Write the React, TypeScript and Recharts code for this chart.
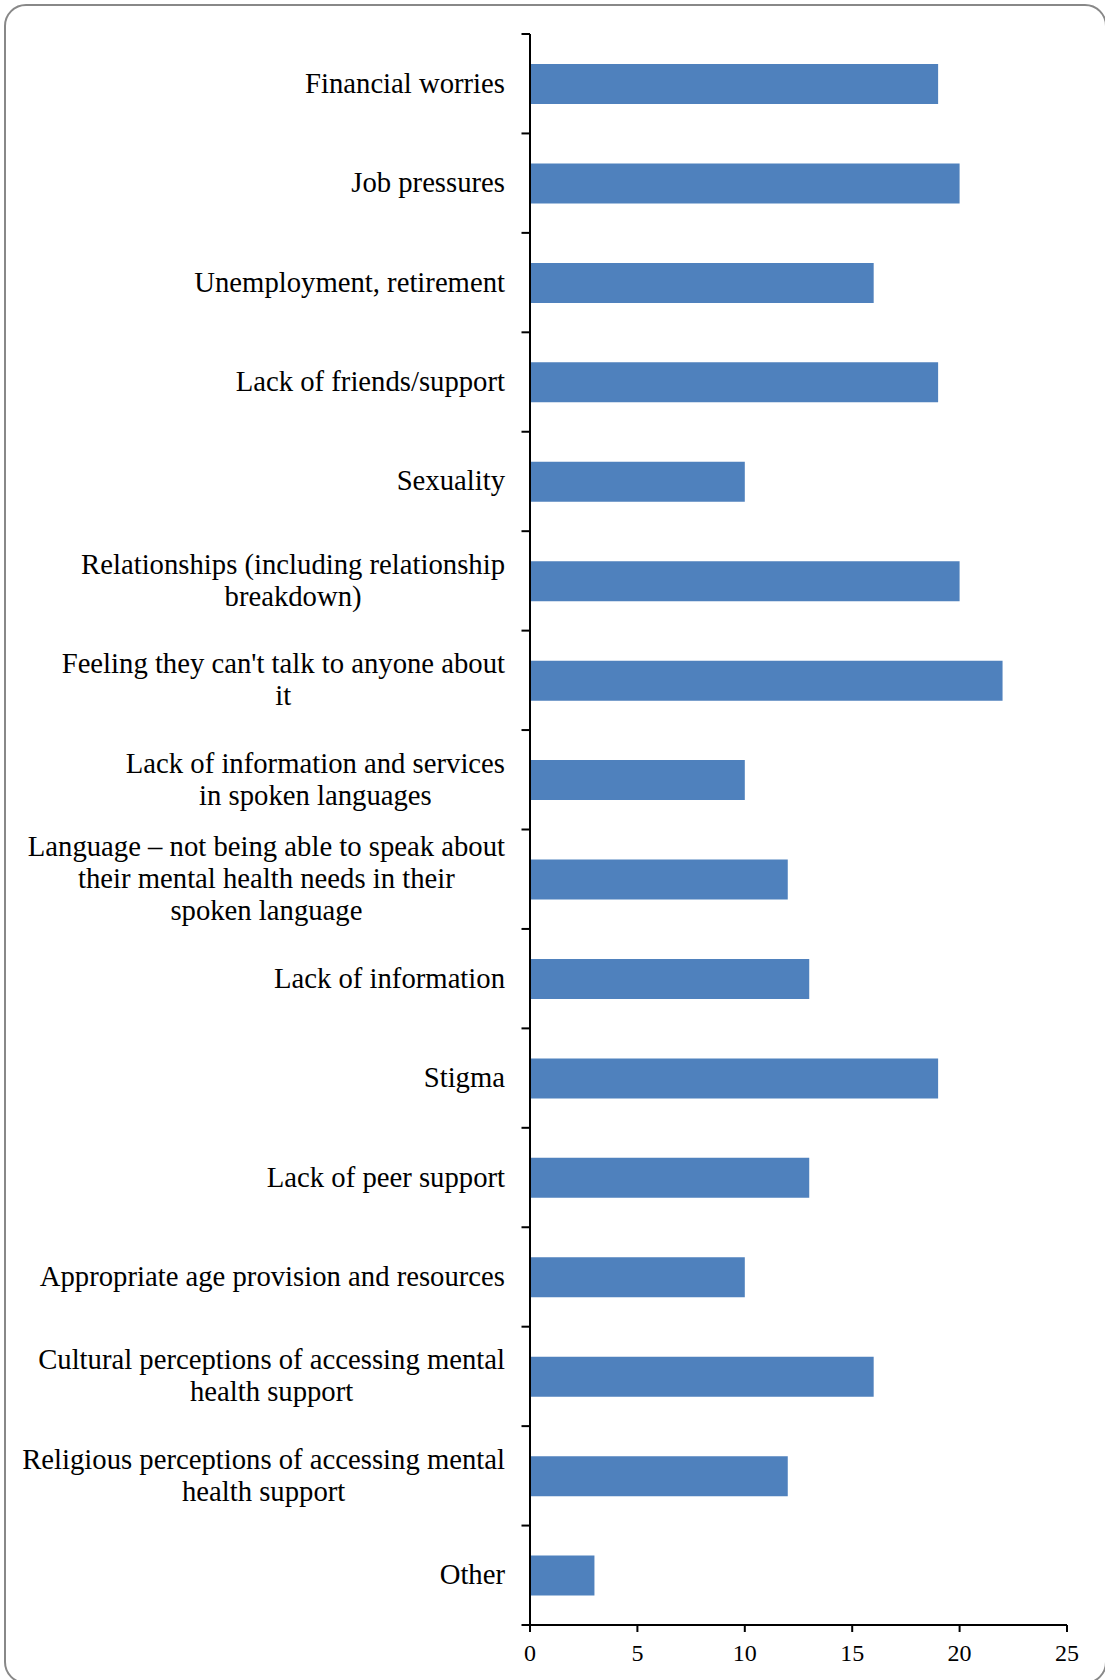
import { Bar, BarChart, XAxis, YAxis } from "recharts";

const categories = [
  "Financial worries",
  "Job pressures",
  "Unemployment, retirement",
  "Lack of friends/support",
  "Sexuality",
  "Relationships (including relationship\nbreakdown)",
  "Feeling they can't talk to anyone about\nit",
  "Lack of information and services\nin spoken languages",
  "Language – not being able to speak about\ntheir mental health needs in their\nspoken language",
  "Lack of information",
  "Stigma",
  "Lack of peer support",
  "Appropriate age provision and resources",
  "Cultural perceptions of accessing mental\nhealth support",
  "Religious perceptions of accessing mental\nhealth support",
  "Other",
];
const counts = [19, 20, 16, 19, 10, 20, 22, 10, 12, 13, 19, 13, 10, 16, 12, 3];
const xTicks = [0, 5, 10, 15, 20, 25];

const data = categories.map((name, i) => ({ name, count: counts[i] }));

const FONT = '"Liberation Serif", "Times New Roman", serif';
const LABEL_SIZE = 28.7;
const LINE_GAP = 32;

let ctx: CanvasRenderingContext2D | null = null;
function textWidth(s: string) {
  if (!ctx) {
    ctx = document.createElement("canvas").getContext("2d");
    if (ctx) ctx.font = `${LABEL_SIZE}px ${FONT}`;
  }
  return ctx ? ctx.measureText(s).width : s.length * LABEL_SIZE * 0.45;
}

// category label: lines centred on each other, block right-aligned,
// plus the boundary tick marks Excel draws between categories
function CategoryTick(props: any) {
  const { x, y, payload, index } = props;
  const half = payload?.offset ?? 49.7;
  const lines = String(payload.value).split("\n");
  const maxW = Math.max(...lines.map(textWidth));
  const cx = x - 25 - maxW / 2;
  const first = y + 9 - ((lines.length - 1) / 2) * LINE_GAP;
  return (
    <g>
      <line x1={x - 8.5} x2={x} y1={y - half} y2={y - half} stroke="#000" strokeWidth={2} />
      {index === categories.length - 1 && (
        <line x1={x - 8.5} x2={x} y1={y + half} y2={y + half} stroke="#000" strokeWidth={2} />
      )}
      <text textAnchor="middle" fontFamily={FONT} fontSize={LABEL_SIZE} fill="#000">
        {lines.map((ln, i) => (
          <tspan key={i} x={cx} y={first + i * LINE_GAP}>
            {ln}
          </tspan>
        ))}
      </text>
    </g>
  );
}

export default function App() {
  return (
    <div
      style={{
        position: "absolute",
        left: 0,
        top: 0,
        width: 1105,
        height: 1680,
        background: "#fff",
        overflow: "hidden",
      }}
    >
      <div
        style={{
          position: "absolute",
          left: 3.7,
          top: 4,
          width: 1103,
          height: 1680,
          border: "2px solid #888",
          borderRadius: 22,
          boxSizing: "border-box",
        }}
      />
      <div style={{ position: "absolute", left: 0, top: 0 }}>
        <BarChart
          width={1105}
          height={1680}
          data={data}
          layout="vertical"
          margin={{ top: 34, right: 38, bottom: 5, left: 0 }}
        >
          <XAxis
            type="number"
            domain={[0, 25]}
            ticks={xTicks}
            interval={0}
            stroke="#000"
            axisLine={{ stroke: "#000", strokeWidth: 2 }}
            tickLine={{ stroke: "#000", strokeWidth: 2 }}
            tickSize={7}
            tickMargin={12}
            height={50}
            tick={{ fill: "#000", fontSize: 24, fontFamily: FONT }}
          />
          <YAxis
            type="category"
            dataKey="name"
            width={530}
            interval={0}
            axisLine={{ stroke: "#000", strokeWidth: 2 }}
            tickLine={false}
            tickSize={0}
            tickMargin={0}
            tick={(p: any) => <CategoryTick {...p} />}
          />
          <Bar dataKey="count" fill="#4F81BD" barSize={40} isAnimationActive={false} />
        </BarChart>
      </div>
    </div>
  );
}
